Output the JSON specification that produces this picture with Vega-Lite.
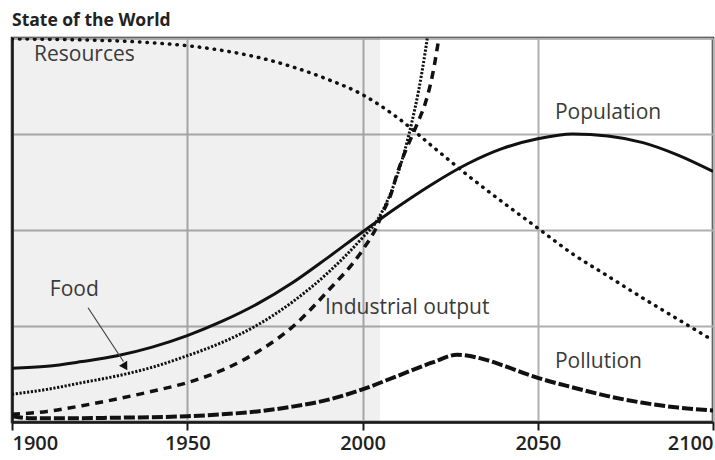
{
  "$schema": "https://vega.github.io/schema/vega-lite/v6.json",
  "width": 701,
  "height": 384,
  "autosize": {"type": "none"},
  "padding": {"left": 12, "top": 38, "right": 2, "bottom": 38},
  "title": {"text": "State of the World", "anchor": "start", "frame": "group", "font": "Open Sans", "fontSize": 17.5, "fontWeight": "bold", "color": "#222", "offset": 9},
  "config": {"view": {"stroke": "#1a1a1a", "strokeWidth": 2.5}, "font": "Open Sans"},
  "datasets": {
    "series": [
      {"series": "Population", "year": 1900, "value": 0.56},
      {"series": "Population", "year": 1910, "value": 0.58},
      {"series": "Population", "year": 1920, "value": 0.63},
      {"series": "Population", "year": 1930, "value": 0.69},
      {"series": "Population", "year": 1940, "value": 0.78},
      {"series": "Population", "year": 1950, "value": 0.90},
      {"series": "Population", "year": 1960, "value": 1.05},
      {"series": "Population", "year": 1970, "value": 1.23},
      {"series": "Population", "year": 1980, "value": 1.45},
      {"series": "Population", "year": 1990, "value": 1.71},
      {"series": "Population", "year": 2000, "value": 1.98},
      {"series": "Population", "year": 2010, "value": 2.24},
      {"series": "Population", "year": 2020, "value": 2.48},
      {"series": "Population", "year": 2030, "value": 2.69},
      {"series": "Population", "year": 2040, "value": 2.85},
      {"series": "Population", "year": 2050, "value": 2.95},
      {"series": "Population", "year": 2060, "value": 3.0},
      {"series": "Population", "year": 2070, "value": 2.98},
      {"series": "Population", "year": 2080, "value": 2.91},
      {"series": "Population", "year": 2090, "value": 2.78},
      {"series": "Population", "year": 2100, "value": 2.61},
      {"series": "Food", "year": 1900, "value": 0.29},
      {"series": "Food", "year": 1910, "value": 0.34},
      {"series": "Food", "year": 1920, "value": 0.41},
      {"series": "Food", "year": 1930, "value": 0.48},
      {"series": "Food", "year": 1940, "value": 0.57},
      {"series": "Food", "year": 1950, "value": 0.69},
      {"series": "Food", "year": 1960, "value": 0.83},
      {"series": "Food", "year": 1970, "value": 1.01},
      {"series": "Food", "year": 1980, "value": 1.25},
      {"series": "Food", "year": 1990, "value": 1.55},
      {"series": "Food", "year": 2000, "value": 1.92},
      {"series": "Food", "year": 2004, "value": 2.09},
      {"series": "Food", "year": 2006, "value": 2.22},
      {"series": "Food", "year": 2008, "value": 2.38},
      {"series": "Food", "year": 2010, "value": 2.58},
      {"series": "Food", "year": 2012, "value": 2.82},
      {"series": "Food", "year": 2014, "value": 3.11},
      {"series": "Food", "year": 2016, "value": 3.45},
      {"series": "Food", "year": 2018, "value": 3.88},
      {"series": "Food", "year": 2020, "value": 4.4},
      {"series": "Food", "year": 2022, "value": 5.0},
      {"series": "Industrial output", "year": 1900, "value": 0.08},
      {"series": "Industrial output", "year": 1910, "value": 0.11},
      {"series": "Industrial output", "year": 1920, "value": 0.17},
      {"series": "Industrial output", "year": 1930, "value": 0.24},
      {"series": "Industrial output", "year": 1940, "value": 0.32},
      {"series": "Industrial output", "year": 1950, "value": 0.41},
      {"series": "Industrial output", "year": 1960, "value": 0.54},
      {"series": "Industrial output", "year": 1970, "value": 0.73},
      {"series": "Industrial output", "year": 1980, "value": 0.99},
      {"series": "Industrial output", "year": 1990, "value": 1.36},
      {"series": "Industrial output", "year": 2000, "value": 1.79},
      {"series": "Industrial output", "year": 2004, "value": 2.03},
      {"series": "Industrial output", "year": 2006, "value": 2.2},
      {"series": "Industrial output", "year": 2008, "value": 2.36},
      {"series": "Industrial output", "year": 2010, "value": 2.6},
      {"series": "Industrial output", "year": 2012, "value": 2.8},
      {"series": "Industrial output", "year": 2014, "value": 2.97},
      {"series": "Industrial output", "year": 2016, "value": 3.14},
      {"series": "Industrial output", "year": 2018, "value": 3.33},
      {"series": "Industrial output", "year": 2020, "value": 3.62},
      {"series": "Industrial output", "year": 2022, "value": 4.05},
      {"series": "Industrial output", "year": 2024, "value": 4.55},
      {"series": "Resources", "year": 1900, "value": 3.99},
      {"series": "Resources", "year": 1920, "value": 3.98},
      {"series": "Resources", "year": 1930, "value": 3.97},
      {"series": "Resources", "year": 1940, "value": 3.95},
      {"series": "Resources", "year": 1950, "value": 3.92},
      {"series": "Resources", "year": 1960, "value": 3.87},
      {"series": "Resources", "year": 1970, "value": 3.80},
      {"series": "Resources", "year": 1980, "value": 3.70},
      {"series": "Resources", "year": 1990, "value": 3.57},
      {"series": "Resources", "year": 2000, "value": 3.41},
      {"series": "Resources", "year": 2010, "value": 3.17},
      {"series": "Resources", "year": 2020, "value": 2.87},
      {"series": "Resources", "year": 2030, "value": 2.57},
      {"series": "Resources", "year": 2040, "value": 2.29},
      {"series": "Resources", "year": 2050, "value": 2.02},
      {"series": "Resources", "year": 2060, "value": 1.75},
      {"series": "Resources", "year": 2070, "value": 1.52},
      {"series": "Resources", "year": 2080, "value": 1.29},
      {"series": "Resources", "year": 2090, "value": 1.07},
      {"series": "Resources", "year": 2100, "value": 0.85},
      {"series": "Pollution", "year": 1900, "value": 0.06},
      {"series": "Pollution", "year": 1905, "value": 0.04},
      {"series": "Pollution", "year": 1920, "value": 0.04},
      {"series": "Pollution", "year": 1930, "value": 0.045},
      {"series": "Pollution", "year": 1940, "value": 0.05},
      {"series": "Pollution", "year": 1950, "value": 0.06},
      {"series": "Pollution", "year": 1960, "value": 0.08},
      {"series": "Pollution", "year": 1970, "value": 0.11},
      {"series": "Pollution", "year": 1980, "value": 0.16},
      {"series": "Pollution", "year": 1990, "value": 0.23},
      {"series": "Pollution", "year": 2000, "value": 0.34},
      {"series": "Pollution", "year": 2010, "value": 0.48},
      {"series": "Pollution", "year": 2020, "value": 0.62},
      {"series": "Pollution", "year": 2027, "value": 0.70},
      {"series": "Pollution", "year": 2035, "value": 0.65},
      {"series": "Pollution", "year": 2040, "value": 0.59},
      {"series": "Pollution", "year": 2050, "value": 0.46},
      {"series": "Pollution", "year": 2060, "value": 0.36},
      {"series": "Pollution", "year": 2070, "value": 0.27},
      {"series": "Pollution", "year": 2080, "value": 0.20},
      {"series": "Pollution", "year": 2090, "value": 0.15},
      {"series": "Pollution", "year": 2100, "value": 0.12}
    ],
    "labels": [
      {"label": "Resources", "year": 1906.3, "value": 3.82},
      {"label": "Population", "year": 2054.9, "value": 3.22},
      {"label": "Food", "year": 1910.8, "value": 1.375},
      {"label": "Industrial output", "year": 1989.3, "value": 1.19},
      {"label": "Pollution", "year": 2054.9, "value": 0.625}
    ],
    "shade": [{"start": 1900, "end": 2005}],
    "arrow": [{"year": 1921.7, "value": 1.19, "year2": 1931.8, "value2": 0.63}],
    "arrowhead": [{"year": 1932.3, "value": 0.575}]
  },
  "layer": [
    {
      "data": {"name": "shade"},
      "mark": {"type": "rect", "fill": "#000", "opacity": 0.058},
      "encoding": {
        "x": {"field": "start", "type": "quantitative",
          "scale": {"domain": [1900, 2100], "nice": false, "zero": false},
          "axis": {"values": [1900, 1950, 2000, 2050, 2100], "format": "d", "labelFlush": true, "grid": true, "gridColor": "#b0b0b0", "gridWidth": 2, "tickColor": "#1a1a1a", "tickSize": 8, "tickWidth": 2, "domainColor": "#1a1a1a", "domainWidth": 2.5, "labelFont": "Open Sans", "labelFontSize": 20, "labelFontWeight": 600, "labelColor": "#222", "labelPadding": 3, "title": null}},
        "x2": {"field": "end"}
      }
    },
    {
      "data": {"name": "series"},
      "transform": [{"filter": "datum.series === 'Population'"}],
      "mark": {"type": "line", "clip": true, "interpolate": "monotone", "stroke": "#111", "strokeWidth": 3},
      "encoding": {
        "x": {"field": "year", "type": "quantitative"},
        "y": {"field": "value", "type": "quantitative",
          "scale": {"domain": [0, 4], "nice": false, "zero": true},
          "axis": {"values": [0, 1, 2, 3, 4], "labels": false, "ticks": false, "grid": true, "gridColor": "#b0b0b0", "gridWidth": 2, "domainColor": "#1a1a1a", "domainWidth": 2.5, "title": null}}
      }
    },
    {
      "data": {"name": "series"},
      "transform": [{"filter": "datum.series === 'Food'"}],
      "mark": {"type": "line", "clip": true, "interpolate": "monotone", "stroke": "#111", "strokeWidth": 3, "strokeDash": [2.2, 1.6]},
      "encoding": {
        "x": {"field": "year", "type": "quantitative"},
        "y": {"field": "value", "type": "quantitative"}
      }
    },
    {
      "data": {"name": "series"},
      "transform": [{"filter": "datum.series === 'Industrial output'"}],
      "mark": {"type": "line", "clip": true, "interpolate": "monotone", "stroke": "#111", "strokeWidth": 3.5, "strokeDash": [8, 6]},
      "encoding": {
        "x": {"field": "year", "type": "quantitative"},
        "y": {"field": "value", "type": "quantitative"}
      }
    },
    {
      "data": {"name": "series"},
      "transform": [{"filter": "datum.series === 'Resources'"}],
      "mark": {"type": "line", "clip": true, "interpolate": "monotone", "stroke": "#111", "strokeWidth": 3.5, "strokeCap": "round", "strokeDash": [0.5, 7]},
      "encoding": {
        "x": {"field": "year", "type": "quantitative"},
        "y": {"field": "value", "type": "quantitative"}
      }
    },
    {
      "data": {"name": "series"},
      "transform": [{"filter": "datum.series === 'Pollution'"}],
      "mark": {"type": "line", "clip": true, "interpolate": "monotone", "stroke": "#111", "strokeWidth": 4, "strokeDash": [11, 3]},
      "encoding": {
        "x": {"field": "year", "type": "quantitative"},
        "y": {"field": "value", "type": "quantitative"}
      }
    },
    {
      "data": {"name": "arrow"},
      "mark": {"type": "rule", "stroke": "#444", "strokeWidth": 1.2},
      "encoding": {
        "x": {"field": "year", "type": "quantitative"},
        "y": {"field": "value", "type": "quantitative"},
        "x2": {"field": "year2"},
        "y2": {"field": "value2"}
      }
    },
    {
      "data": {"name": "arrowhead"},
      "mark": {"type": "point", "shape": "triangle-down", "filled": true, "fill": "#111", "opacity": 1, "size": 90, "angle": -31},
      "encoding": {
        "x": {"field": "year", "type": "quantitative"},
        "y": {"field": "value", "type": "quantitative"}
      }
    },
    {
      "data": {"name": "labels"},
      "mark": {"type": "text", "align": "left", "baseline": "middle", "font": "Open Sans", "fontSize": 21, "color": "#3a3a3a"},
      "encoding": {
        "x": {"field": "year", "type": "quantitative"},
        "y": {"field": "value", "type": "quantitative"},
        "text": {"field": "label"}
      }
    }
  ]
}
